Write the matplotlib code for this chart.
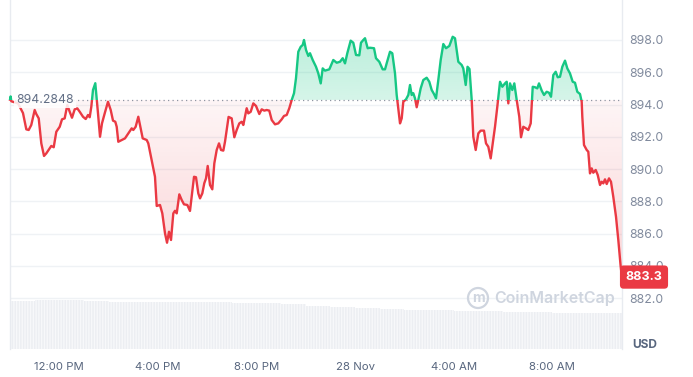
import numpy as np
import matplotlib.pyplot as plt
from matplotlib.path import Path
from matplotlib.patches import PathPatch, Rectangle, Ellipse
from matplotlib.colors import to_rgb

plt.rcParams['font.family'] = ['Inter', 'DejaVu Sans']

# minutes after 27 Nov 10:00, price in USD
minutes = [0, 1.5, 3.2, 19.5, 31.6, 39.7, 45.5, 51.8, 60.1, 64.0, 69.9, 76.2, 82.8, 88.4, 96.6,
           100.5, 106.4, 112.7, 121.0, 126.6, 133.1, 139.5, 145.3, 150.9, 157.5, 163.8, 169.7,
           177.7, 184.3, 189.9, 194.0, 197.9, 202.0, 207.6, 211.0, 214.2, 219.1, 223.9, 230.5,
           238.5, 245.1, 250.7, 256.3, 259.7, 263.6, 271.9, 279.9, 287.9, 296.2, 300.1, 305.9,
           312.3, 318.9, 323.0, 332.7, 336.6, 343.2, 352.9, 357.1, 365.1, 370.7, 377.3, 382.2,
           387.0, 391.9, 397.5, 401.6, 405.8, 412.1, 417.9, 423.5, 431.6, 438.1, 447.9, 452.7,
           458.3, 462.5, 468.1, 472.9, 477.1, 481.2, 486.8, 492.4, 497.3, 503.1, 508.7, 513.6,
           519.2, 523.3, 528.0, 532.0, 539.6, 546.0, 551.8, 558.1, 564.0, 567.9, 576.1, 580.0,
           585.9, 592.2, 598.8, 606.8, 612.6, 619.0, 624.8, 631.1, 637.0, 645.0, 653.0, 661.3,
           666.9, 673.5, 679.8, 685.7, 691.3, 696.1, 701.7, 707.6, 712.4, 715.6, 720.5, 726.1,
           730.2, 736.8, 744.8, 750.4, 756.3, 761.1, 766.7, 777.2, 786.9, 795.2, 803.2, 809.8,
           815.4, 821.0, 829.2, 835.6, 842.2, 850.2, 854.3, 859.9, 864.1, 870.6, 876.2, 886.0,
           890.8, 898.9, 907.1, 912.8, 916.9, 924.9, 930.5, 937.1, 941.2, 945.1, 949.3, 953.4,
           957.3, 963.9, 969.5, 973.6, 977.7, 981.6, 985.8, 989.9, 993.8, 999.6, 1006.0, 1014.2,
           1020.6, 1026.4, 1032.0, 1036.9, 1042.5, 1048.3, 1054.7, 1061.2, 1069.3, 1077.5,
           1083.1, 1091.2, 1099.4, 1103.3, 1109.2, 1113.6, 1118.4, 1123.8, 1127.7, 1133.5,
           1139.9, 1145.7, 1153.7, 1158.6, 1164.2, 1170.0, 1174.9, 1180.5, 1186.1, 1192.7,
           1198.3, 1204.8, 1209.0, 1212.9, 1217.0, 1222.6, 1227.5, 1233.3, 1239.6, 1243.8,
           1249.4, 1256.0, 1261.5, 1267.4, 1272.3, 1277.9, 1283.5, 1287.6, 1294.2, 1299.8,
           1306.3, 1311.9, 1316.8, 1322.4, 1328.2, 1333.1, 1338.7, 1344.3, 1350.9, 1356.5,
           1363.0, 1369.6, 1375.2, 1380.8, 1387.4, 1391.5, 1393.0, 1397.1, 1403.7, 1407.6,
           1411.7, 1415.8, 1419.7, 1425.6, 1430.5, 1436.1, 1440.2, 1444.1, 1448.2, 1452.4,
           1458.0, 1462.8, 1468.4, 1475.0, 1480.6, 1486.4, 1489.6]
price = [894.30, 894.50, 894.20, 894.07, 893.47, 892.46, 892.42, 892.73, 893.66, 893.41, 893.14,
         891.59, 890.81, 890.97, 891.28, 891.43, 891.35, 892.31, 892.62, 893.08, 893.14, 893.97,
         893.55, 893.18, 893.70, 893.76, 893.55, 893.24, 893.10, 893.35, 893.21, 893.86, 894.90,
         895.32, 894.38, 893.45, 892.00, 892.83, 893.45, 894.17, 893.66, 893.00, 892.93, 892.62,
         891.69, 891.80, 891.90, 892.21, 892.52, 892.42, 892.62, 893.24, 892.42, 891.90, 891.80,
         891.59, 890.76, 889.52, 887.71, 887.77, 887.25, 886.01, 885.43, 886.11, 885.60, 887.25,
         887.41, 887.25, 888.43, 888.08, 887.81, 887.77, 887.40, 889.52, 889.49, 888.49, 888.18,
         888.49, 889.12, 889.42, 890.19, 889.01, 888.74, 890.35, 891.18, 891.59, 891.18, 891.14,
         891.69, 892.54, 893.23, 893.14, 891.97, 892.42, 892.83, 892.93, 892.73, 893.77, 893.45,
         893.55, 894.07, 893.91, 893.41, 893.70, 893.62, 893.66, 893.62, 893.04, 892.77, 892.83,
         893.08, 893.29, 893.35, 893.77, 894.28, 894.70, 895.63, 897.27, 897.58, 897.69, 898.00,
         897.38, 897.01, 897.18, 896.76, 896.34, 895.93, 895.31, 896.24, 896.10, 896.18, 896.76,
         896.59, 896.65, 896.87, 896.55, 897.18, 897.96, 897.83, 897.07, 897.05, 897.83, 898.00,
         898.11, 897.49, 897.52, 897.49, 896.87, 896.65, 896.18, 896.18, 896.56, 897.27, 897.18,
         895.93, 894.59, 893.77, 892.83, 893.14, 894.17, 894.32, 894.59, 895.21, 894.59, 894.70,
         894.38, 893.83, 894.28, 895.00, 895.52, 895.66, 895.41, 894.90, 894.65, 894.38, 895.52,
         896.76, 897.75, 897.49, 897.63, 898.20, 898.11, 896.65, 896.45, 896.24, 895.21, 896.34,
         896.20, 894.28, 892.00, 891.18, 892.21, 892.38, 892.38, 891.59, 891.38, 890.66, 891.59,
         892.62, 893.86, 895.41, 895.10, 895.31, 895.41, 894.07, 895.31, 894.90, 895.31, 894.28,
         893.24, 891.97, 892.62, 892.52, 892.42, 892.83, 895.10, 895.07, 895.00, 895.31, 894.86,
         894.59, 894.79, 894.73, 894.48, 895.83, 896.03, 895.69, 895.72, 896.34, 896.72, 896.24,
         895.93, 895.41, 895.35, 894.79, 894.65, 894.17, 893.24, 891.49, 891.18, 891.07, 889.73,
         890.04, 889.77, 889.94, 889.63, 889.01, 889.21, 889.11, 889.36, 889.07, 889.42, 889.21,
         888.28, 887.04, 885.60, 883.94, 883.30]

base_price = 894.2848
last_price = 883.3

# hourly volume (relative), from the faint bars at the bottom
vol_hour = list(range(25))
volume = [48, 49, 49, 48, 47.5, 47, 47, 47, 47, 46.5, 46, 45, 43.5, 42, 41, 40, 39.5, 39,
          38.5, 38, 37.5, 37, 36.5, 36, 36]

tick_hours = [12, 16, 20, 24, 28, 32]
tick_labels = ['12:00 PM', '4:00 PM', '8:00 PM', '28 Nov', '4:00 AM', '8:00 AM']
price_ticks = [882, 884, 886, 888, 890, 892, 894, 896, 898]

GREEN = '#16c784'
RED = '#ea3943'
GRID = '#eff2f5'

t = np.array(minutes)
p = np.array(price)
x0, x1 = t[0], t[-1]

W, H = 693, 377
fig = plt.figure(figsize=(W / 100, H / 100), dpi=100)

# volume strip behind the price axes
vax = fig.add_axes([10 / W, 28 / H, 612 / W, 49 / H])
vax.bar(np.array(vol_hour) * 60, volume, width=60, align='edge', color='#f7f8fa',
        edgecolor='#eceef2', hatch='||||||', linewidth=0)
vax.set_xlim(x0, x1)
vax.set_ylim(0, 49)
vax.axis('off')

ax = fig.add_axes([10 / W, 28 / H, 612 / W, 349 / H])
ax.patch.set_alpha(0)
ax.set_xlim(x0, x1)
ax.set_ylim(878.84, 900.48)


def gradient_fill(mask, color, a_near, a_far, y_near, y_far):
    coll = ax.fill_between(t, p, base_price, where=mask, interpolate=True,
                           color='none', lw=0)
    path = Path.make_compound_path(*coll.get_paths())
    patch = PathPatch(path, transform=ax.transData, fc='none', ec='none')
    ax.add_patch(patch)
    n = 200
    alphas = np.linspace(a_near, a_far, n)
    img = np.zeros((n, 1, 4))
    img[:, 0, :3] = to_rgb(color)
    img[:, 0, 3] = alphas
    lo, hi = min(y_near, y_far), max(y_near, y_far)
    if y_near > y_far:
        img = img[::-1]
    im = ax.imshow(img, extent=[x0, x1, lo, hi], origin='lower', aspect='auto', zorder=1)
    im.set_clip_path(patch)


gradient_fill(p >= base_price, GREEN, 0.18, 0.30, base_price, 898.5)
gradient_fill(p <= base_price, RED, 0.05, 0.22, base_price, 883.0)
ax.set_xlim(x0, x1)
ax.set_ylim(878.84, 900.48)

g_line, = ax.plot(t, p, color=GREEN, lw=1.7, zorder=3, solid_joinstyle='round')
r_line, = ax.plot(t, p, color=RED, lw=1.7, zorder=3, solid_joinstyle='round')
g_line.set_clip_path(Rectangle((x0 - 100, base_price), x1 - x0 + 200, 50, transform=ax.transData))
r_line.set_clip_path(Rectangle((x0 - 100, base_price - 50), x1 - x0 + 200, 50, transform=ax.transData))

ax.axhline(base_price, color='#8f96a3', lw=0.9, ls=(0, (1, 2.6)), zorder=2)
ax.text(0.010, base_price, f'{base_price:.4f}', transform=ax.get_yaxis_transform(),
        ha='left', va='center', fontsize=8.8, color='#616e85', zorder=4,
        bbox=dict(boxstyle='square,pad=0.2', fc='white', ec='none', alpha=0.85))

ax.set_yticks(price_ticks)
ax.set_yticklabels([f'{v:.1f}' for v in price_ticks])
ax.yaxis.tick_right()
ax.yaxis.grid(True, color=GRID, lw=1)
ax.set_axisbelow(True)
ax.tick_params(axis='y', length=0, pad=5, labelsize=8.8, labelcolor='#808a9d')

ax.set_xticks([(h - 10) * 60 for h in tick_hours])
ax.set_xticklabels(tick_labels)
ax.tick_params(axis='x', length=0, pad=9, labelsize=8.2, labelcolor='#58667e')

for s in ['top', 'bottom']:
    ax.spines[s].set_visible(False)
for s in ['left', 'right']:
    ax.spines[s].set_color('#e8ebf0')
    ax.spines[s].set_linewidth(1)

# last price badge
ax.text(1 + 22 / 612, last_price, f'{last_price:.1f}', transform=ax.get_yaxis_transform(),
        ha='center', va='center', fontsize=9, weight='bold', color='white', zorder=5,
        clip_on=False,
        bbox=dict(boxstyle='round,pad=0.45,rounding_size=0.3', fc=RED, ec='none'))

fig.text(645 / W, 1 - 345 / H, 'USD', ha='center', va='center', fontsize=8.6,
         weight='bold', color='#58667e')

# watermark
fig.add_artist(Ellipse((478 / W, 1 - 298 / H), 20 / W, 20 / H, fc='none',
                       ec='#cfd5df', lw=1.6))
fig.text(478 / W, 1 - 298 / H, 'm', ha='center', va='center', fontsize=10,
         color='#cfd5df', weight='bold')
fig.text(494 / W, 1 - 298 / H, 'CoinMarketCap', ha='left', va='center', fontsize=11.5,
         color='#cfd5df', weight='semibold')

fig.savefig('out.png', dpi=100)
